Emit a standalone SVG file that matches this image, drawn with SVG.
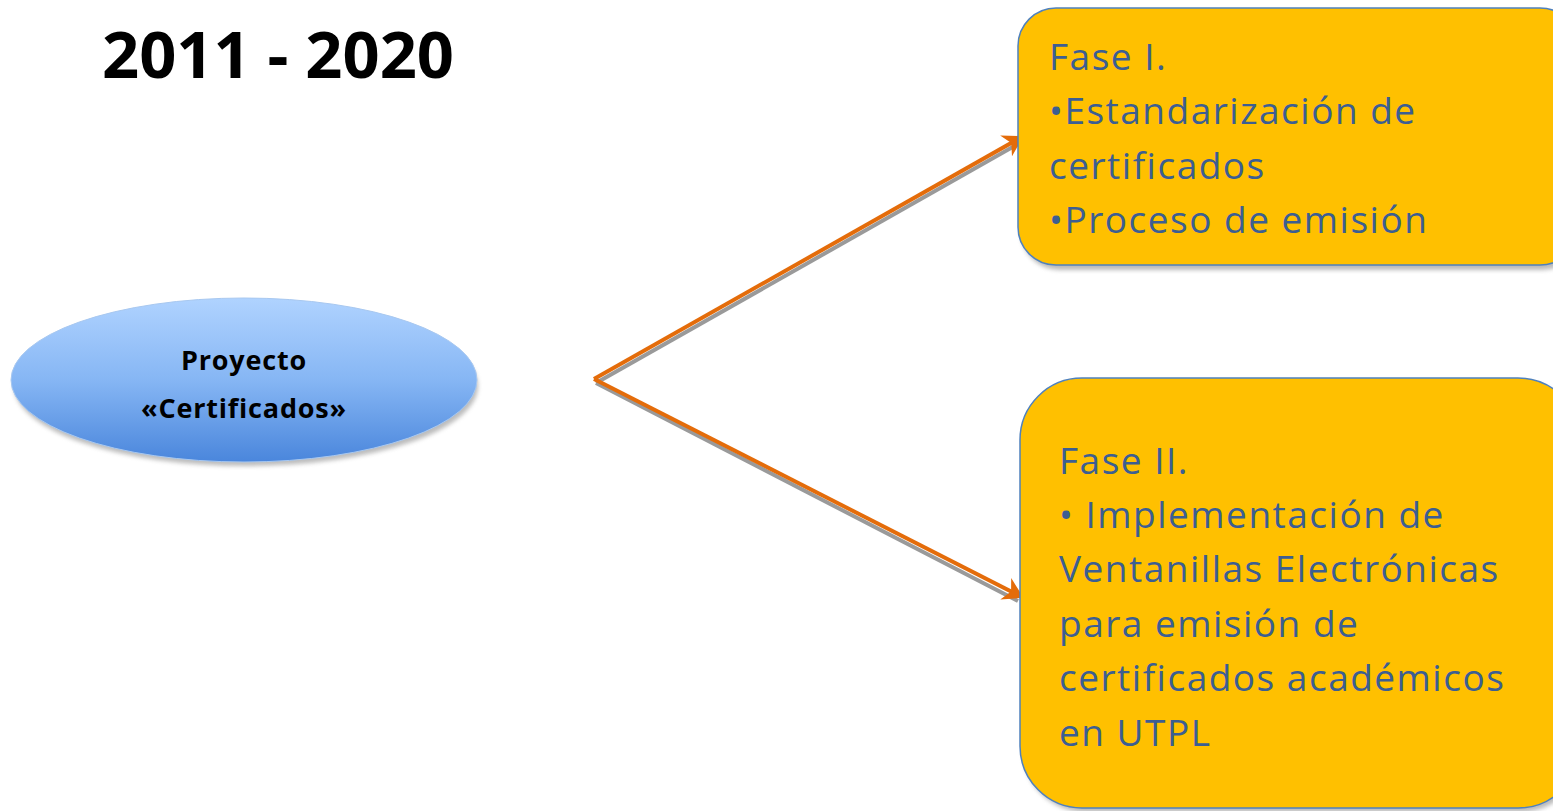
<svg xmlns="http://www.w3.org/2000/svg" width="1553" height="811" viewBox="0 0 1553 811">
<style>
.box{fill:#ffc000;stroke:#4f81bd;stroke-width:1.5}
.shadow{fill:#8c8c8c;opacity:0.6}
.bt{font-family:"Open Sans","Liberation Sans",sans-serif;font-size:37px;letter-spacing:1.5px;fill:#3c5e92}
.conn{stroke:#e46c0a;stroke-width:4;fill:none}
.connsh{stroke:#9a9a9a;stroke-width:4;fill:none}
.et{font-family:"Open Sans","Liberation Sans",sans-serif;font-weight:bold;font-size:27px;letter-spacing:0.8px;fill:#000}
</style>
<defs>
<linearGradient id="eg" x1="0" y1="0" x2="0" y2="1">
<stop offset="0" stop-color="#b0d3ff"/>
<stop offset="0.5" stop-color="#86b6f4"/>
<stop offset="1" stop-color="#4a86dc"/>
</linearGradient>
<marker id="ah" markerWidth="6" markerHeight="6" refX="4" refY="3" orient="auto" markerUnits="strokeWidth">
<path d="M0,0 L5,3 L0,6 L1.5,3 Z" fill="#e46c0a"/>
</marker>
<filter id="blur" x="-10%" y="-10%" width="120%" height="130%"><feGaussianBlur stdDeviation="2"/></filter>
</defs>
<text x="102" y="78" font-family="'Open Sans','Liberation Sans',sans-serif" font-weight="bold" font-size="65" fill="#000">2011 - 2020</text>
<g id="connectors">
<line class="connsh" x1="596" y1="383" x2="1018" y2="144"/>
<line class="connsh" x1="596" y1="383" x2="1018" y2="601"/>
<line class="conn" x1="594" y1="379" x2="1020" y2="138" marker-end="url(#ah)"/>
<line class="conn" x1="594" y1="379" x2="1020" y2="596" marker-end="url(#ah)"/>
</g>
<g id="node-proyecto">
<ellipse cx="246" cy="386" rx="232" ry="80" fill="#7a7a7a" opacity="0.5" filter="url(#blur)"/>
<ellipse cx="244" cy="380" rx="233" ry="82" fill="url(#eg)" stroke="#a8c8f0" stroke-width="1"/>
<text class="et" x="244" y="370" text-anchor="middle">Proyecto</text>
<text class="et" x="244" y="418" text-anchor="middle">«Certificados»</text>
</g>
<g id="node-fase1">
<rect class="shadow" x="1021" y="12" width="560" height="258" rx="38" filter="url(#blur)"/>
<rect class="box" x="1018" y="8" width="560" height="257" rx="38"/>
<text class="bt" x="1049" y="70">Fase I.</text>
<text class="bt" x="1049" y="124">•Estandarización de</text>
<text class="bt" x="1049" y="179">certificados</text>
<text class="bt" x="1049" y="233">•Proceso de emisión</text>
</g>
<g id="node-fase2">
<rect class="shadow" x="1023" y="382" width="560" height="430" rx="62" filter="url(#blur)"/>
<rect class="box" x="1020" y="378" width="560" height="430" rx="62"/>
<text class="bt" x="1059" y="474">Fase II.</text>
<text class="bt" x="1059" y="528">• Implementación de</text>
<text class="bt" x="1059" y="582">Ventanillas Electrónicas</text>
<text class="bt" x="1059" y="637">para emisión de</text>
<text class="bt" x="1059" y="691">certificados académicos</text>
<text class="bt" x="1059" y="746">en UTPL</text>
</g>
</svg>
